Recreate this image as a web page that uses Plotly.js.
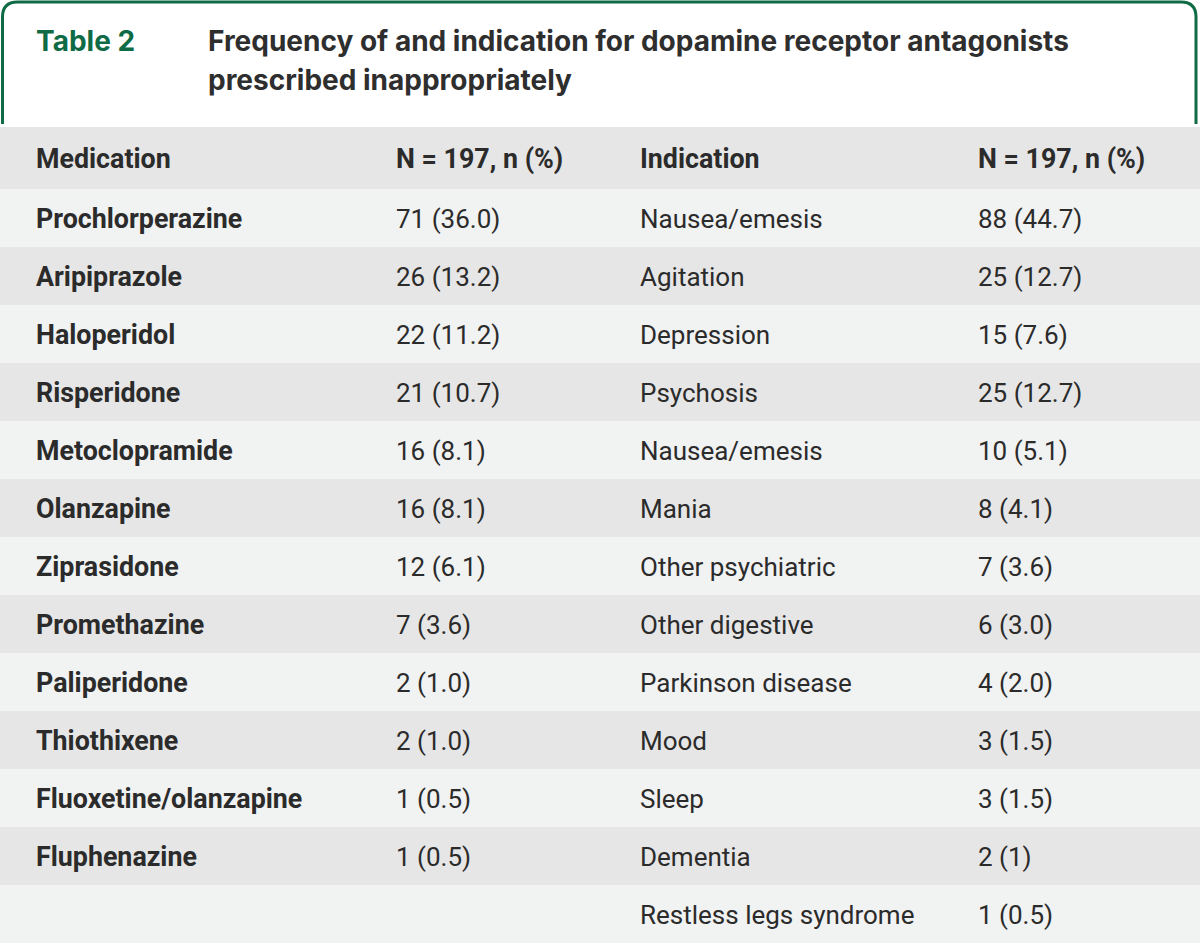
<!DOCTYPE html>
<html>
<head>
<meta charset="utf-8">
<script src="https://cdn.plot.ly/plotly-3.0.1.min.js"></script>
<style>html,body{margin:0;padding:0;background:#fff}#chart{width:1200px;height:945px}</style>
</head>
<body>
<div id="chart"></div>
<script>
// ---- data ----
const tableLabel = "Table 2";
const titleLines = ["Frequency of and indication for dopamine receptor antagonists", "prescribed inappropriately"];
const headers = ["Medication", "N = 197, n (%)", "Indication", "N = 197, n (%)"];
const medications = ["Prochlorperazine","Aripiprazole","Haloperidol","Risperidone","Metoclopramide","Olanzapine","Ziprasidone","Promethazine","Paliperidone","Thiothixene","Fluoxetine/olanzapine","Fluphenazine",""];
const medicationCounts = ["71 (36.0)","26 (13.2)","22 (11.2)","21 (10.7)","16 (8.1)","16 (8.1)","12 (6.1)","7 (3.6)","2 (1.0)","2 (1.0)","1 (0.5)","1 (0.5)",""];
const indications = ["Nausea/emesis","Agitation","Depression","Psychosis","Nausea/emesis","Mania","Other psychiatric","Other digestive","Parkinson disease","Mood","Sleep","Dementia","Restless legs syndrome"];
const indicationCounts = ["88 (44.7)","25 (12.7)","15 (7.6)","25 (12.7)","10 (5.1)","8 (4.1)","7 (3.6)","6 (3.0)","4 (2.0)","3 (1.5)","3 (1.5)","2 (1)","1 (0.5)"];

// ---- layout constants (pixels) ----
const W = 1200, H = 945;
const headerTop = 127, headerH = 62, rowH = 58;
const colX = [36, 396, 640, 978];
const FONT = "Roboto, 'Open Sans', sans-serif";
const TITLE_FONT = "Inter, Roboto, sans-serif";
const TXT = "#2b2b2b";
const GREEN = "#0e6b45";
const FILL_HEAD = "#e6e6e6", FILL_A = "#f1f2f2", FILL_B = "#e6e6e6";
const BODY_SIZE = 26, BOLD_SIZE = 26.8, TITLE_SIZE = 28, DY = 3;

const nRows = medications.length;
const headerY = headerTop + headerH / 2;
const rowY = medications.map((_, i) => headerTop + headerH + rowH * i + rowH / 2);

const traces = [];
// row backgrounds
traces.push({
  type: "bar", orientation: "h",
  y: [headerY].concat(rowY),
  x: Array(nRows + 1).fill(W),
  base: 0,
  width: [headerH].concat(Array(nRows).fill(rowH)),
  marker: {color: [FILL_HEAD].concat(rowY.map((_, i) => i % 2 === 0 ? FILL_A : FILL_B)), line: {width: 0}},
  hoverinfo: "skip", showlegend: false
});

function textTrace(xs, ys, texts, bold) {
  return {
    type: "scatter", mode: "text",
    x: xs, y: ys.map(v => v + DY), text: texts,
    textposition: "middle right",
    textfont: {family: FONT, size: bold ? BOLD_SIZE : BODY_SIZE, color: TXT, weight: bold ? 700 : 400},
    cliponaxis: false, hoverinfo: "skip", showlegend: false
  };
}
// header
traces.push(textTrace(colX, Array(4).fill(headerY), headers, true));
// columns
traces.push(textTrace(Array(nRows).fill(colX[0]), rowY, medications, true));
traces.push(textTrace(Array(nRows).fill(colX[1]), rowY, medicationCounts, false));
traces.push(textTrace(Array(nRows).fill(colX[2]), rowY, indications, false));
traces.push(textTrace(Array(nRows).fill(colX[3]), rowY, indicationCounts, false));

const r = 15, bx0 = 2.5, bx1 = 1196, by0 = 2, by1 = 124;
const boxPath = `M ${bx0} ${by1} L ${bx0} ${by0 + r} Q ${bx0} ${by0} ${bx0 + r} ${by0} L ${bx1 - r} ${by0} Q ${bx1} ${by0} ${bx1} ${by0 + r} L ${bx1} ${by1}`;

const annotations = [
  {x: 34, y: 41, xref: "x", yref: "y", text: tableLabel, showarrow: false, xanchor: "left", yanchor: "middle",
   font: {family: TITLE_FONT, size: TITLE_SIZE, color: GREEN, weight: 700}}
].concat(titleLines.map((t, i) => ({
  x: 206, y: 41 + 39 * i, xref: "x", yref: "y", text: t, showarrow: false, xanchor: "left", yanchor: "middle",
  font: {family: TITLE_FONT, size: TITLE_SIZE, color: "#2e2e2e", weight: 700}
})));

const layout = {
  width: W, height: H,
  margin: {l: 0, r: 0, t: 0, b: 0, pad: 0},
  paper_bgcolor: "#ffffff", plot_bgcolor: "#ffffff",
  xaxis: {range: [0, W], visible: false, fixedrange: true},
  yaxis: {range: [H, 0], visible: false, fixedrange: true},
  showlegend: false,
  shapes: [{type: "path", path: boxPath, xref: "x", yref: "y", line: {color: GREEN, width: 3}, fillcolor: "rgba(0,0,0,0)", layer: "above"}],
  annotations: annotations
};

Plotly.newPlot("chart", traces, layout, {staticPlot: true, displayModeBar: false});
</script>
</body>
</html>
